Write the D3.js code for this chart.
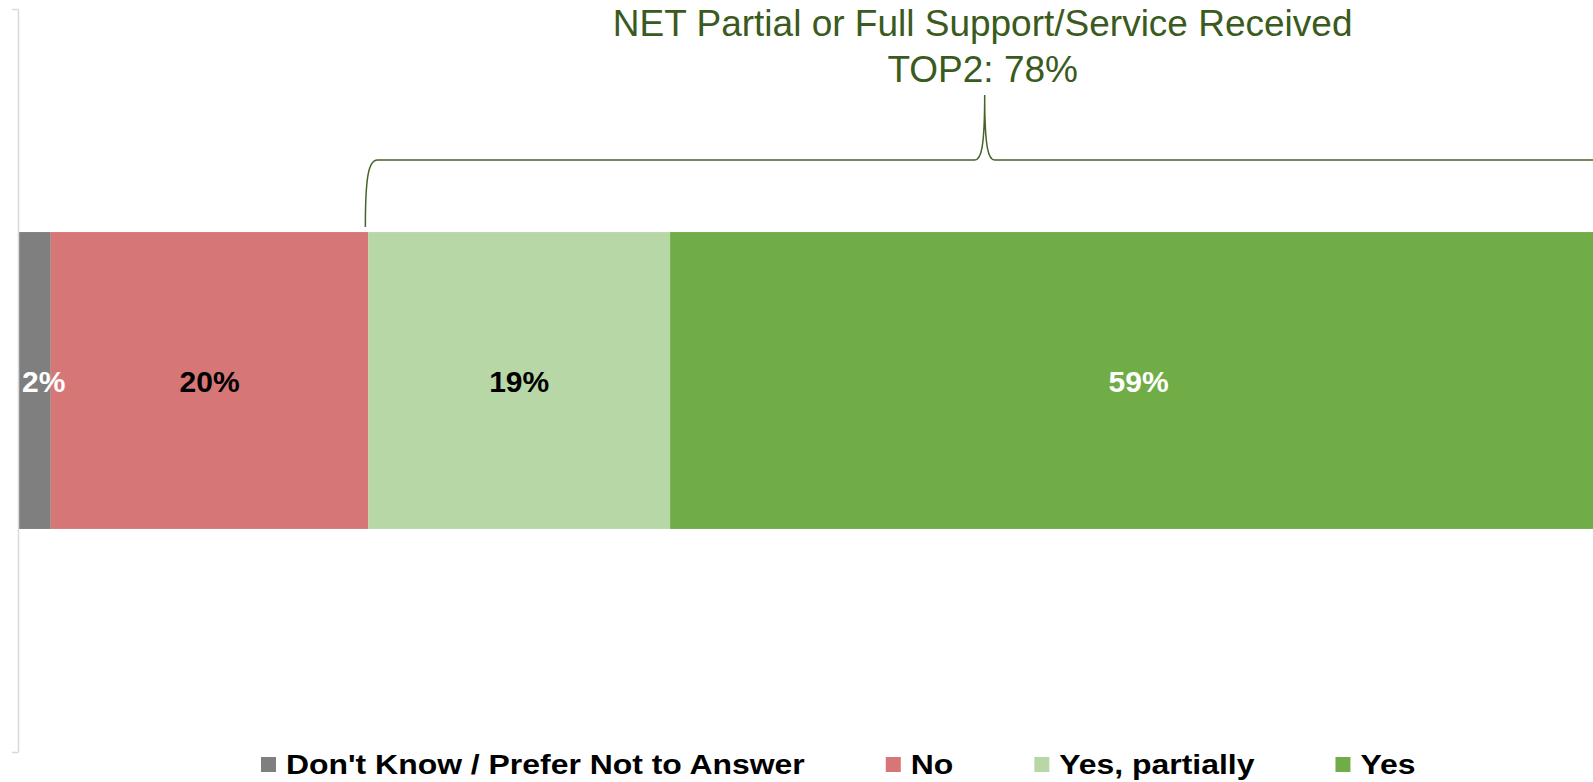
<!DOCTYPE html>
<html>
<head>
<meta charset="utf-8">
<script src="https://cdn.jsdelivr.net/npm/d3@7"></script>
<style>
  html, body { margin: 0; padding: 0; background: #ffffff; }
  svg { display: block; font-family: "Liberation Sans", Arial, sans-serif; }
</style>
</head>
<body>
<svg id="chart" width="1593" height="782"></svg>
<script>
// Single stacked 100% bar: support / service received
const categories = ["Don't Know / Prefer Not to Answer", "No", "Yes, partially", "Yes"];
const values = [2, 20, 19, 59];
const colors = ["#7f7f7f", "#d67676", "#b8d7a6", "#70ad47"];
const labelColors = ["#ffffff", "#000000", "#000000", "#ffffff"];
const rowName = ["Received"];
const netSeries = ["Yes, partially", "Yes"];
const netTitle = "NET Partial or Full Support/Service Received";

const svg = d3.select("#chart");
const W = 1593, H = 782;

svg.append("rect").attr("width", W).attr("height", H).attr("fill", "#ffffff");

// Scales
const x = d3.scaleLinear().domain([0, 100]).range([19, 1607]);
const y = d3.scaleBand().domain(rowName).range([9, 752]).paddingInner(0.429).paddingOuter(0.429);
const yEdge = d3.scaleLinear().domain([0, 1]).range([752, 9]);

// Stack cumulative starts
let acc = 0;
const segs = categories.map((c, i) => {
  const s = { name: c, value: values[i], x0: acc, x1: acc + values[i], color: colors[i], label: labelColors[i] };
  acc += values[i];
  return s;
});

// Bars
const barY = y(rowName[0]);
const barH = y.bandwidth();
svg.append("g").selectAll("rect").data(segs).join("rect")
  .attr("x", d => x(d.x0))
  .attr("y", barY)
  .attr("width", d => x(d.x1) - x(d.x0))
  .attr("height", barH)
  .attr("fill", d => d.color);

// Category axis (no labels, light gray)
const axisG = svg.append("g").attr("transform", "translate(18,0)")
  .call(d3.axisLeft(yEdge).tickValues([0, 1]).tickFormat("").tickSize(6).tickSizeOuter(0));
axisG.select(".domain").attr("stroke", "#d9d9d9").attr("stroke-width", 1.5);
axisG.selectAll(".tick line").attr("stroke", "#d9d9d9").attr("stroke-width", 1.5);

// Value labels
const fmt = v => d3.format(".0f")(v) + "%";
const labels = svg.append("g").selectAll("text").data(segs).join("text")
  .attr("y", barY + barH / 2 + 11)
  .attr("text-anchor", "middle")
  .attr("font-size", 30)
  .attr("font-weight", "bold")
  .attr("fill", d => d.label)
  .text(d => fmt(d.value));
labels.attr("x", function (d) {
  const w = this.getComputedTextLength();
  const mid = (x(d.x0) + x(d.x1)) / 2;
  return Math.max(mid, x(0) + w / 2 + 3);
});

// NET brace over partial + full
const netSegs = segs.filter(s => netSeries.includes(s.name));
const netValue = d3.sum(netSegs, s => s.value);
const xl = x(d3.min(netSegs, s => s.x0)) - 3;
const xr = x(d3.max(netSegs, s => s.x1)) - 3;
const xm = (xl + xr) / 2;
const yb = barY - 5, yh = 160, yp = 95;
const brace = d3.path();
brace.moveTo(xl, yb);
brace.bezierCurveTo(xl, yh + 18, xl + 3, yh, xl + 12, yh);
brace.lineTo(xm - 10, yh);
brace.bezierCurveTo(xm - 4, yh, xm, yh - 10, xm, yp);
brace.bezierCurveTo(xm, yh - 10, xm + 4, yh, xm + 10, yh);
brace.lineTo(xr - 12, yh);
brace.bezierCurveTo(xr - 3, yh, xr, yh + 18, xr, yb);
svg.append("path").attr("d", brace.toString())
  .attr("fill", "none").attr("stroke", "#46632a").attr("stroke-width", 1.5);

const title = svg.append("text").attr("text-anchor", "middle")
  .attr("font-size", 37).attr("fill", "#3a5a1e");
title.append("tspan").attr("x", xm - 2).attr("y", 36).text(netTitle);
title.append("tspan").attr("x", xm - 2).attr("y", 82).text("TOP2: " + netValue + "%");

// Legend (text drawn slightly wide)
const legend = svg.append("g");
const sx = 1.14;
let lx = 261;
segs.forEach(s => {
  const g = legend.append("g").attr("transform", `translate(${lx},0)`);
  g.append("rect").attr("x", 0).attr("y", 757).attr("width", 15).attr("height", 15).attr("fill", s.color);
  const t = g.append("text").attr("transform", `translate(25,773.5) scale(${sx},1)`)
    .attr("font-size", 28).attr("font-weight", "bold").attr("fill", "#000000").text(s.name);
  lx += 25 + t.node().getComputedTextLength() * sx + 81;
});
</script>
</body>
</html>
